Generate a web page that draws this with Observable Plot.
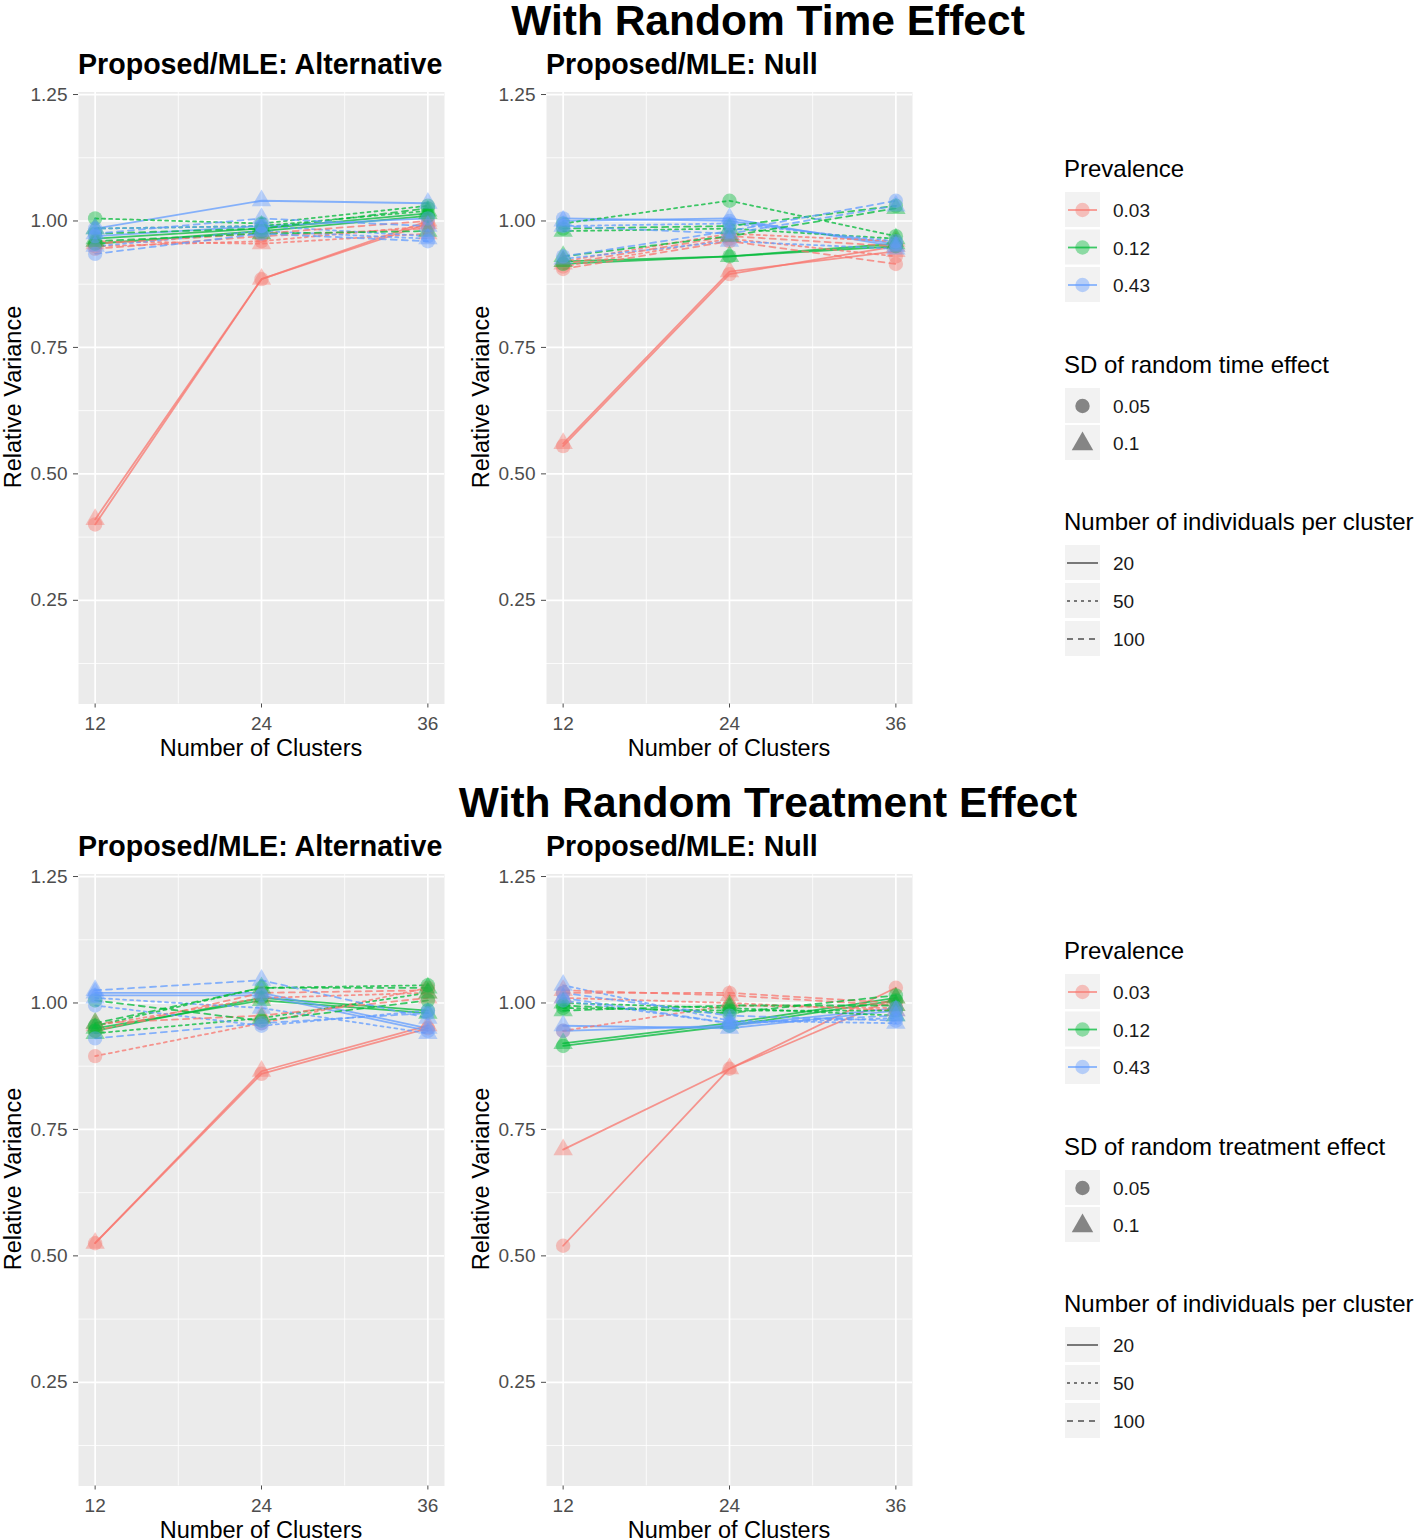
<!DOCTYPE html>
<html><head><meta charset="utf-8">
<script src="https://cdn.jsdelivr.net/npm/d3@7"></script>
<script src="https://cdn.jsdelivr.net/npm/@observablehq/plot@0.6"></script>
<style>
body{margin:0;background:#fff;}
#root{position:relative;width:1416px;height:1540px;overflow:hidden;font-family:"Liberation Sans",Arial,sans-serif;}
#root svg{position:absolute;}
</style></head><body><div id="root"></div>
<script>
// ---------- data ----------
const clusters = [12, 24, 36];
const prevalenceLevels = ["0.03", "0.12", "0.43"];
const sdLevels = ["0.05", "0.1"];
const sizeLevels = ["20", "50", "100"];
const prevalenceColors = ["#F8766D", "#00BA38", "#619CFF"];
const yTicks = [0.25, 0.5, 0.75, 1.0, 1.25];
const yMinor = [0.125, 0.375, 0.625, 0.875, 1.125];
const xMinor = [18, 30];

// series order: prevalence (0.03, 0.12, 0.43) x SD (0.05, 0.1) x n (20, 50, 100); values at 12, 24, 36 clusters
const timeAlt = [
  [0.40, 0.885, 1.00], [0.95, 0.96, 0.99], [0.945, 0.97, 0.985],
  [0.41, 0.885, 0.995], [0.96, 0.955, 0.975], [0.955, 0.975, 1.00],
  [0.955, 0.98, 1.01], [1.005, 0.995, 1.03], [0.975, 0.985, 1.025],
  [0.965, 0.985, 1.015], [0.985, 0.99, 1.02], [0.96, 0.975, 0.98],
  [0.97, 0.99, 1.005], [0.985, 0.99, 0.97], [0.935, 0.975, 0.96],
  [0.985, 1.04, 1.035], [0.95, 0.98, 0.965], [0.975, 1.005, 0.99]
];
const timeNull = [
  [0.555, 0.895, 0.95], [0.91, 0.965, 0.93], [0.905, 0.96, 0.915],
  [0.56, 0.90, 0.94], [0.92, 0.975, 0.96], [0.915, 0.97, 0.95],
  [0.915, 0.93, 0.95], [0.995, 1.04, 0.97], [0.985, 0.99, 1.03],
  [0.92, 0.93, 0.955], [0.98, 0.985, 0.965], [0.93, 0.97, 1.025],
  [1.005, 1.00, 0.955], [0.99, 0.995, 0.96], [0.93, 0.98, 1.04],
  [1.00, 1.005, 0.95], [0.925, 0.96, 0.945], [0.99, 0.975, 1.03]
];
const trtAlt = [
  [0.525, 0.86, 0.95], [0.895, 0.96, 1.03], [0.945, 1.02, 1.025],
  [0.525, 0.865, 0.955], [0.955, 1.01, 1.02], [0.96, 0.975, 1.01],
  [0.945, 1.01, 0.985], [0.955, 1.03, 1.035], [1.005, 0.965, 1.005],
  [0.95, 1.005, 0.98], [0.94, 0.97, 1.02], [0.96, 1.03, 1.03],
  [1.015, 1.015, 0.945], [0.995, 0.955, 0.985], [0.93, 0.96, 0.98],
  [1.02, 1.02, 0.95], [1.01, 0.99, 0.94], [1.025, 1.045, 0.97]
];
const trtNull = [
  [0.52, 0.87, 1.03], [0.945, 0.995, 0.99], [1.02, 1.02, 1.00],
  [0.71, 0.87, 1.01], [1.01, 1.00, 0.985], [1.025, 1.015, 0.995],
  [0.915, 0.955, 1.005], [0.99, 0.985, 0.985], [0.995, 0.98, 1.015],
  [0.92, 0.96, 1.01], [1.00, 0.99, 0.975], [0.985, 0.995, 0.995],
  [0.945, 0.955, 0.99], [1.005, 0.96, 0.97], [1.02, 0.975, 0.965],
  [0.955, 0.95, 0.985], [1.035, 0.965, 0.96], [1.01, 0.96, 0.975]
];

// ---------- build ----------
const FONT = '"Liberation Sans", Arial, sans-serif';
const root = document.getElementById("root");

function makeRows(values) {
  const rows = [];
  values.forEach((v, i) => {
    const p = prevalenceLevels[Math.floor(i / 6)];
    const sd = sdLevels[Math.floor(i / 3) % 2];
    const n = sizeLevels[i % 3];
    v.forEach((y, j) => rows.push({x: clusters[j], y, p, sd, n, key: i}));
  });
  return rows;
}

const dashes = {"20": null, "50": "3,4", "100": "6,5"};

function panel(values, left, top) {
  const rows = makeRows(values);
  const lineMark = n => Plot.line(rows.filter(d => d.n === n), {
    x: "x", y: "y", z: "key", stroke: "p", strokeWidth: 1.8, strokeOpacity: 0.75,
    strokeDasharray: dashes[n]
  });
  const chart = Plot.plot({
    width: 460, height: 780,
    marginLeft: 78, marginRight: 16, marginTop: 91.5, marginBottom: 76.5,
    style: {fontFamily: FONT, fontSize: "19px", background: "transparent", overflow: "visible"},
    x: {domain: [10.8, 37.2]},
    y: {domain: [0.045, 1.255]},
    color: {domain: prevalenceLevels, range: prevalenceColors},
    symbol: {domain: sdLevels, range: ["circle", "triangle"]},
    marks: [
      Plot.frame({fill: "#EBEBEB", stroke: "none"}),
      Plot.gridY(yMinor, {stroke: "white", strokeOpacity: 1, strokeWidth: 0.8}),
      Plot.gridX(xMinor, {stroke: "white", strokeOpacity: 1, strokeWidth: 0.8}),
      Plot.gridY(yTicks, {stroke: "white", strokeOpacity: 1, strokeWidth: 1.7}),
      Plot.gridX(clusters, {stroke: "white", strokeOpacity: 1, strokeWidth: 1.7}),
      ...sizeLevels.map(lineMark),
      Plot.dot(rows, {x: "x", y: "y", fill: "p", symbol: "sd", r: 7.2, fillOpacity: 0.42, stroke: "none"}),
      Plot.axisY(yTicks, {tickFormat: d3.format(".2f"), tickSize: 5, tickPadding: 6, label: null, fontSize: 19, color: "#4D4D4D"}),
      Plot.axisX(clusters, {tickSize: 4, tickPadding: 8, label: null, fontSize: 19, color: "#4D4D4D"})
    ]
  });
  chart.style.left = left + "px";
  chart.style.top = top + "px";
  root.appendChild(chart);
}

panel(timeAlt, 0, 0);
panel(timeNull, 468, 0);
panel(trtAlt, 0, 782);
panel(trtNull, 468, 782);

// ---------- overlay text & legends ----------
const svg = d3.create("svg").attr("width", 1416).attr("height", 1540)
  .style("left", "0px").style("top", "0px").style("pointer-events", "none")
  .attr("font-family", FONT);
root.appendChild(svg.node());

function txt(x, y, s, size, opts = {}) {
  const t = svg.append("text").attr("x", x).attr("y", y).attr("font-size", size).text(s)
    .attr("fill", opts.fill || "#000");
  if (opts.bold) t.attr("font-weight", "bold");
  if (opts.anchor) t.attr("text-anchor", opts.anchor);
  if (opts.rotate) t.attr("transform", `rotate(-90 ${x} ${y})`);
  return t;
}

const mainTitles = ["With Random Time Effect", "With Random Treatment Effect"];
const panelTitles = ["Proposed/MLE: Alternative", "Proposed/MLE: Null"];
const sdTitles = ["SD of random time effect", "SD of random treatment effect"];

[0, 782].forEach((dy, k) => {
  txt(768, 35 + dy, mainTitles[k], 42.5, {bold: true, anchor: "middle"});
  [0, 468].forEach((dx, j) => {
    txt(78 + dx, 74 + dy, panelTitles[j], 28.6, {bold: true});
    txt(21 + dx, 397 + dy, "Relative Variance", 23.5, {anchor: "middle", rotate: true});
    txt(261 + dx, 756 + dy, "Number of Clusters", 23.5, {anchor: "middle"});
  });

  // legend
  const lx = 1065, kw = 35, kh = 36;
  txt(1064, 177 + dy, "Prevalence", 24);
  [210, 247.5, 285].forEach((cy, i) => {
    const c = cy + dy;
    svg.append("rect").attr("x", lx).attr("y", c - kh / 2).attr("width", kw).attr("height", kh - 1).attr("fill", "#F2F2F2");
    svg.append("line").attr("x1", lx + 3).attr("x2", lx + kw - 3).attr("y1", c).attr("y2", c)
      .attr("stroke", prevalenceColors[i]).attr("stroke-width", 1.8).attr("stroke-opacity", 0.75);
    svg.append("circle").attr("cx", lx + kw / 2).attr("cy", c).attr("r", 7.2).attr("fill", prevalenceColors[i]).attr("fill-opacity", 0.42);
    txt(1113, c + 7, prevalenceLevels[i], 19, {fill: "#1A1A1A"});
  });

  txt(1064, 373 + dy, sdTitles[k], 24);
  [406, 443].forEach((cy, i) => {
    const c = cy + dy;
    svg.append("rect").attr("x", lx).attr("y", c - kh / 2).attr("width", kw).attr("height", kh - 1).attr("fill", "#F2F2F2");
    const sym = d3.symbol().type(i === 0 ? d3.symbolCircle : d3.symbolTriangle).size(i === 0 ? 163 : 200);
    svg.append("path").attr("d", sym()).attr("transform", `translate(${lx + kw / 2},${c + (i === 1 ? 1 : 0)})`)
      .attr("fill", "#000").attr("fill-opacity", 0.45);
    txt(1113, c + 7, sdLevels[i], 19, {fill: "#1A1A1A"});
  });

  txt(1064, 530 + dy, "Number of individuals per cluster", 24);
  [563, 601, 639].forEach((cy, i) => {
    const c = cy + dy;
    svg.append("rect").attr("x", lx).attr("y", c - kh / 2).attr("width", kw).attr("height", kh - 1).attr("fill", "#F2F2F2");
    const l = svg.append("line").attr("x1", lx + 2).attr("x2", lx + kw - 2).attr("y1", c).attr("y2", c)
      .attr("stroke", "#333").attr("stroke-width", 1.5).attr("stroke-opacity", 0.85);
    if (dashes[sizeLevels[i]]) l.attr("stroke-dasharray", dashes[sizeLevels[i]]);
    txt(1113, c + 7, sizeLevels[i], 19, {fill: "#1A1A1A"});
  });
});
</script></body></html>
